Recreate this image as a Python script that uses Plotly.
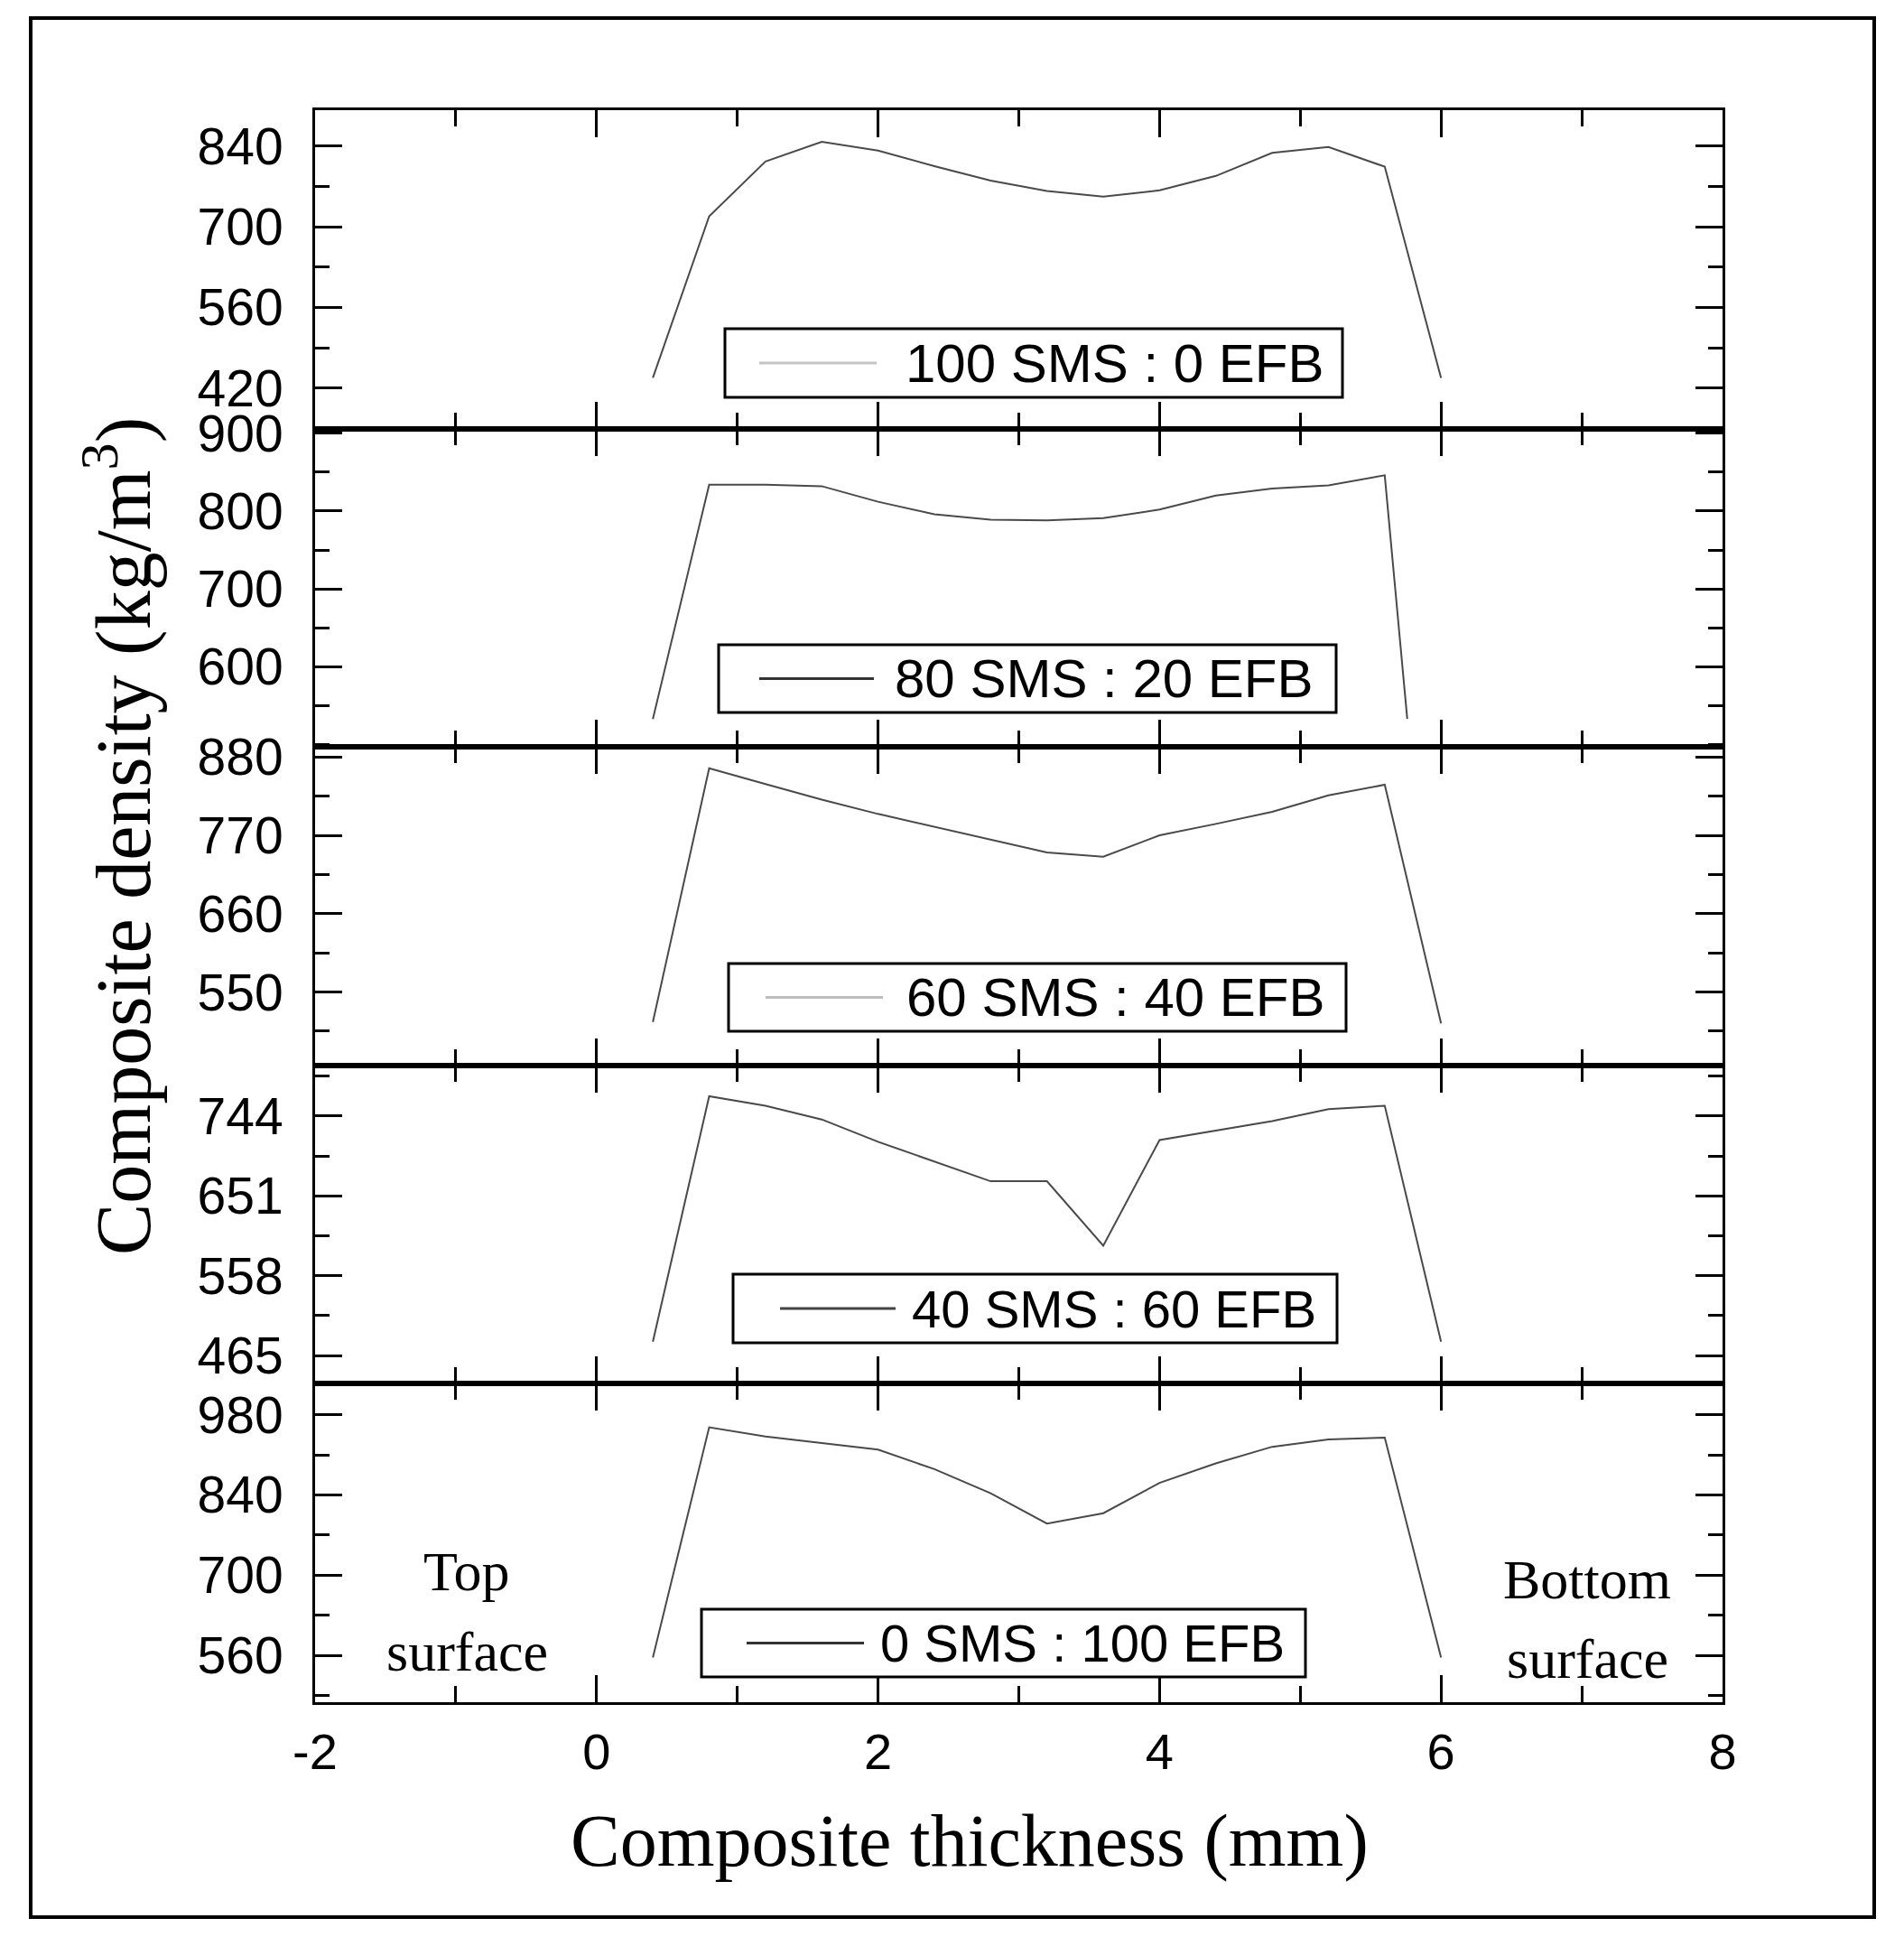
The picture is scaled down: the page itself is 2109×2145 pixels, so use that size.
import plotly.graph_objects as go
from plotly.subplots import make_subplots

# composite thickness positions (mm)
thickness = [0.4, 0.8, 1.2, 1.6, 2.0, 2.4, 2.8, 3.2, 3.6, 4.0, 4.4, 4.8, 5.2, 5.6, 6.0]
thickness_80 = [0.4, 0.8, 1.2, 1.6, 2.0, 2.4, 2.8, 3.2, 3.6, 4.0, 4.4, 4.8, 5.2, 5.6, 5.76]

# density profiles (kg/m3)
density_100_0 = [438, 718, 813, 847, 832, 805, 780, 762, 752, 763, 788, 828, 838, 804, 438]
density_80_20 = [533, 834, 834, 832, 812, 796, 789, 788, 791, 802, 820, 829, 833, 846, 533]
density_60_40 = [508, 864, 842, 820, 800, 782, 764, 746, 740, 770, 786, 803, 826, 841, 506]
density_40_60 = [481, 767, 756, 740, 714, 691, 668, 668, 593, 716, 727, 738, 752, 756, 481]
density_0_100 = [556, 958, 942, 930, 919, 885, 843, 790, 808, 861, 895, 924, 937, 940, 556]

names = ["100 SMS : 0 EFB", "80 SMS : 20 EFB", "60 SMS : 40 EFB",
         "40 SMS : 60 EFB", "0 SMS : 100 EFB"]

x_tickvals = [-2, 0, 2, 4, 6, 8]
x_ticktext = ["-2", "0", "2", "4", "6", "8"]

y_ticks = [[420, 560, 700, 840],
           [600, 700, 800, 900],
           [550, 660, 770, 880],
           [465, 558, 651, 744],
           [560, 700, 840, 980]]
y_minor = [70, 50, 55, 46.5, 70]
y_ranges = [[350, 902], [497, 906], [447, 894], [432, 803], [478, 1034]]

x_list = [thickness, thickness_80, thickness, thickness, thickness]
y_list = [density_100_0, density_80_20, density_60_40, density_40_60, density_0_100]

# plot area on the page (px)
PL, PR, PT, PB = 349, 1908, 122, 1885


def px(x):
    return (x - PL) / (PR - PL)


def py(y):
    return (PB - y) / (PB - PT)


# legend boxes: box x0, x1, y0, y1, sample line x0, x1, text start, sample colour, font size
legend_boxes = [
    (803, 1487, 364, 440, 841, 971, 1001, "#c4c4c4", 60),
    (796, 1480, 714, 789, 841, 968, 989, "#333333", 60),
    (807, 1491, 1067, 1142, 848, 978, 1002, "#bdbdbd", 60),
    (812, 1481, 1411, 1487, 864, 992, 1008, "#444444", 58),
    (777, 1446, 1782, 1857, 827, 957, 973, "#333333", 58),
]

fig = make_subplots(rows=5, cols=1, shared_xaxes=True, vertical_spacing=0)

sans = "Liberation Sans, Arial, sans-serif"
serif = "Liberation Serif, Times New Roman, serif"

for i in range(5):
    fig.add_trace(go.Scatter(
        x=x_list[i], y=y_list[i],
        mode="lines",
        name=names[i],
        line=dict(color="#4a4a4a", width=2),
        showlegend=False,
    ), row=i + 1, col=1)

    fig.update_yaxes(
        range=y_ranges[i], tickvals=y_ticks[i],
        ticks="inside", ticklen=30, tickwidth=3, tickcolor="black",
        minor=dict(ticks="inside", ticklen=16, tickwidth=3, tickcolor="black",
                   dtick=y_minor[i], tick0=0),
        showline=True, linewidth=3, linecolor="black", mirror="ticks",
        showgrid=False, zeroline=False,
        tickfont=dict(family=sans, size=57, color="black"),
        ticklabelstandoff=21,
        row=i + 1, col=1)

    fig.update_xaxes(
        range=[-2, 8], tickvals=x_tickvals, ticktext=x_ticktext,
        ticks="inside", ticklen=30, tickwidth=3, tickcolor="black",
        minor=dict(ticks="inside", ticklen=18, tickwidth=3, tickcolor="black",
                   dtick=1, tick0=0),
        showline=True, linewidth=3, linecolor="black", mirror="ticks",
        showgrid=False, zeroline=False,
        showticklabels=(i == 4),
        tickfont=dict(family=sans, size=56, color="black"),
        ticklabelstandoff=4,
        row=i + 1, col=1)

    # legend box for this panel
    bx0, bx1, by0, by1, lx0, lx1, tx, lc, fs = legend_boxes[i]
    fig.add_shape(type="rect", xref="paper", yref="paper",
                  x0=px(bx0), x1=px(bx1), y0=py(by1), y1=py(by0),
                  line=dict(color="black", width=3), fillcolor="white", layer="above")
    ym = py((by0 + by1) / 2)
    fig.add_shape(type="line", xref="paper", yref="paper",
                  x0=px(lx0), x1=px(lx1), y0=ym, y1=ym,
                  line=dict(color=lc, width=3), layer="above")
    fig.add_annotation(text=names[i], xref="paper", yref="paper",
                       x=px(tx), y=ym, xanchor="left", yanchor="middle",
                       showarrow=False,
                       font=dict(family=sans, size=fs, color="black"))

fig.add_annotation(
    text="Composite density (kg/m<sup>3</sup>)", textangle=-90,
    xref="paper", yref="paper", x=px(130), y=py(926),
    xanchor="center", yanchor="middle", showarrow=False,
    font=dict(family=serif, size=86, color="black"))

fig.add_annotation(
    text="Composite thickness (mm)",
    xref="paper", yref="paper", x=px(1074), y=py(2038),
    xanchor="center", yanchor="middle", showarrow=False,
    font=dict(family=serif, size=82, color="black"))

# surface labels in the bottom panel
for txt, xx, yy in [("Top", -0.92, 706), ("surface", -0.92, 566),
                    ("Bottom", 7.04, 693), ("surface", 7.04, 553)]:
    fig.add_annotation(text=txt, xref="x5", yref="y5", x=xx, y=yy, showarrow=False,
                       xanchor="center", yanchor="middle",
                       font=dict(family=serif, size=62, color="black"))

# outer frame around the whole figure
fig.add_shape(type="rect", xref="paper", yref="paper",
              x0=px(34), x1=px(2076), y0=py(2123), y1=py(20),
              line=dict(color="black", width=4))

# page body adds an 8px offset, so the figure is shrunk by that much
fig.update_layout(
    width=2101, height=2137,
    margin=dict(l=PL - 8, r=2109 - PR, t=PT - 8, b=2145 - PB),
    paper_bgcolor="white", plot_bgcolor="white",
)

fig.write_html("out.html")
